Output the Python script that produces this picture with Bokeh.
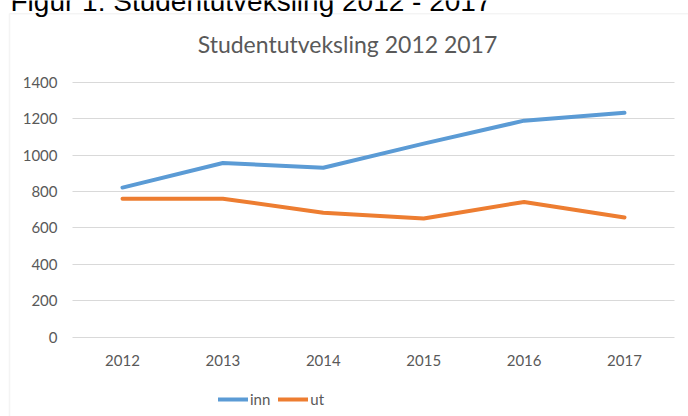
from bokeh.plotting import figure
from bokeh.models import (Range1d, FixedTicker, Legend, LegendItem, Label,
                          BoxAnnotation, ColumnDataSource)
from bokeh.embed import file_html
from bokeh.resources import INLINE

years = [2012, 2013, 2014, 2015, 2016, 2017]
inn = [822, 957, 931, 1064, 1190, 1233]
ut = [761, 761, 684, 652, 743, 657]
y_ticks = [0, 200, 400, 600, 800, 1000, 1200, 1400]
title_text = "Studentutveksling 2012 2017"
heading_text = "Figur 1: Studentutveksling 2012 - 2017"

GREY = "#595959"
BORDER = "#D9D9D9"
FONT = "Lato"
W, H = 688, 416

# the frame fills the whole canvas; pixel -> data mapping of the chart's plot area
px_per_year = 100.4
px_per_unit = 254.5 / 1400
x_start = years[0] - 122 / px_per_year
x_end = years[-1] + (W - 624) / px_per_year
y_start = 0 - (H - 336.5) / px_per_unit
y_end = 1400 + 82 / px_per_unit

p = figure(width=W, height=H, output_backend="svg", toolbar_location=None,
           x_range=Range1d(x_start, x_end), y_range=Range1d(y_start, y_end),
           min_border=0)
p.outline_line_color = None

src = ColumnDataSource(dict(year=years, inn=inn, ut=ut))
r_inn = p.line("year", "inn", source=src, line_color="#5B9BD5", line_width=4,
               line_cap="round", line_join="round")
r_ut = p.line("year", "ut", source=src, line_color="#ED7D31", line_width=4,
              line_cap="round", line_join="round")

p.xgrid.grid_line_color = None
p.ygrid.grid_line_color = BORDER
p.ygrid.grid_line_width = 1
p.ygrid.cross_bounds = (years[0] - 0.5, years[-1] + 0.5)
p.yaxis.ticker = FixedTicker(ticks=y_ticks)
p.xaxis.ticker = FixedTicker(ticks=years)

for ax in (p.xaxis, p.yaxis):
    ax.axis_line_color = None
    ax.major_tick_line_color = None
    ax.minor_tick_line_color = None
    ax.major_tick_out = 0
    ax.major_tick_in = 0
    ax.major_label_text_font = FONT
    ax.major_label_text_font_size = "15px"
    ax.major_label_text_color = GREY
p.yaxis.major_label_standoff = -57
p.xaxis.major_label_standoff = -62

border = BoxAnnotation(left=9, right=W + 20, top=H - 13.25, bottom=-20,
                       left_units="screen", right_units="screen",
                       top_units="screen", bottom_units="screen",
                       fill_alpha=0, line_color=BORDER, line_width=1.5)
p.add_layout(border)

heading = Label(x=10, y=H - 0.5, x_units="screen", y_units="screen",
                text=heading_text, text_font="Liberation Sans",
                text_font_size="28px", text_color="#000000",
                text_baseline="alphabetic", text_align="left")
p.add_layout(heading)

title = Label(x=347, y=H - 43, x_units="screen", y_units="screen",
              text=title_text, text_align="center", text_baseline="alphabetic",
              text_font=FONT, text_font_size="23px", text_color=GREY)
p.add_layout(title)

legend = Legend(items=[LegendItem(label="inn", renderers=[r_inn]),
                       LegendItem(label="ut", renderers=[r_ut])],
                orientation="horizontal", location=(218, H - 409),
                padding=0, margin=0, spacing=8, glyph_width=30, glyph_height=20,
                label_standoff=2, label_text_font=FONT, label_text_font_size="15px",
                label_text_color=GREY, border_line_color=None,
                background_fill_alpha=0)
p.add_layout(legend, "center")

open("out.html", "w").write(file_html(p, INLINE))
